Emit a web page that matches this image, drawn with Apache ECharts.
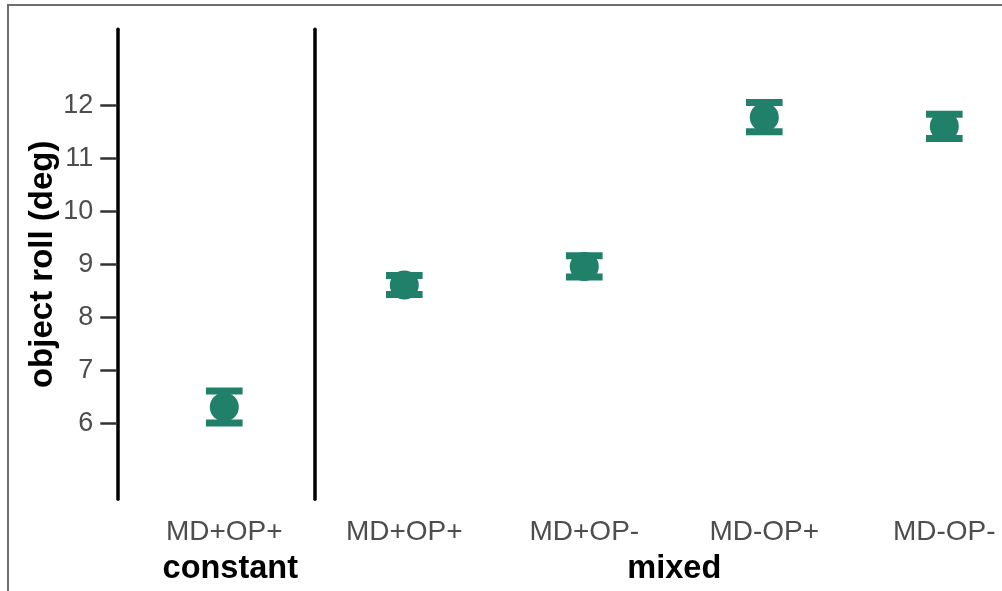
<!DOCTYPE html>
<html>
<head>
<meta charset="utf-8">
<script src="https://cdn.jsdelivr.net/npm/echarts@6/dist/echarts.min.js"></script>
<style>
html,body{margin:0;padding:0;background:#fff;}
#chart{width:1002px;height:591px;}
</style>
</head>
<body>
<div id="chart"></div>
<script>
// ---- data ----
const constantCats = ['MD+OP+'];
const constantMean = [6.31];
const constantLow = [6.01];
const constantHigh = [6.61];

const mixedCats = ['MD+OP+', 'MD+OP-', 'MD-OP+', 'MD-OP-'];
const mixedMean = [8.61, 8.96, 11.77, 11.60];
const mixedLow = [8.43, 8.76, 11.50, 11.37];
const mixedHigh = [8.79, 9.16, 12.05, 11.83];

const yTicks = [6, 7, 8, 9, 10, 11, 12];
const groupNames = ['constant', 'mixed'];
const yTitle = 'object roll (deg)';

// ---- styling ----
const GREEN = '#21806a';
const FONT = "'Liberation Sans', Arial, sans-serif";
const Y_MIN = 4.57, Y_MAX = 13.43;

function errRender(params, api) {
  const x = api.value(0);
  const lo = api.coord([x, api.value(1)]);
  const hi = api.coord([x, api.value(2)]);
  const half = 18.3;
  const st = { stroke: GREEN, lineWidth: 7, lineCap: 'butt' };
  return {
    type: 'group',
    children: [
      { type: 'line', shape: { x1: lo[0], y1: lo[1], x2: hi[0], y2: hi[1] }, style: st },
      { type: 'line', shape: { x1: lo[0] - half, y1: lo[1], x2: lo[0] + half, y2: lo[1] }, style: st },
      { type: 'line', shape: { x1: hi[0] - half, y1: hi[1], x2: hi[0] + half, y2: hi[1] }, style: st }
    ]
  };
}

function yAxisBase(gridIndex, withLabels) {
  return {
    type: 'value',
    gridIndex: gridIndex,
    min: Y_MIN,
    max: Y_MAX,
    splitLine: { show: false },
    axisLine: { show: true, lineStyle: { color: '#000', width: 3.5 } },
    axisTick: withLabels ? {
      show: true, length: 17, customValues: yTicks,
      lineStyle: { color: '#333', width: 2.5 }
    } : { show: false },
    axisLabel: withLabels ? {
      show: true, customValues: yTicks, fontSize: 27, color: '#4d4d4d',
      fontFamily: FONT, margin: 24
    } : { show: false },
    name: withLabels ? yTitle : '',
    nameLocation: 'middle',
    nameRotate: 90,
    nameGap: 58,
    nameTextStyle: { fontSize: 33, fontWeight: 'bold', color: '#000', fontFamily: FONT }
  };
}

function xAxisBase(gridIndex, cats, name, namePad) {
  return {
    type: 'category',
    gridIndex: gridIndex,
    data: cats,
    boundaryGap: true,
    axisLine: { show: false },
    axisTick: { show: false },
    splitLine: { show: false },
    axisLabel: { fontSize: 28, color: '#4d4d4d', fontFamily: FONT, margin: 19, interval: 0 },
    name: name,
    nameLocation: 'middle',
    nameGap: 53,
    nameTextStyle: { fontSize: 32.5, fontWeight: 'bold', color: '#000', fontFamily: FONT, padding: namePad }
  };
}

const chart = echarts.init(document.getElementById('chart'), null, { renderer: 'canvas' });
chart.setOption({
  backgroundColor: '#fff',
  animation: false,
  graphic: [{
    type: 'rect', z: 100, silent: true,
    shape: { x: 8, y: 5, width: 1200, height: 800 },
    style: { fill: 'none', stroke: '#6e6e6e', lineWidth: 2 }
  }],
  grid: [
    { left: 117.3, top: 29.3, width: 214, height: 470, containLabel: false, outerBoundsMode: 'none' },
    { left: 314.3, top: 29.3, width: 720, height: 470, containLabel: false, outerBoundsMode: 'none' }
  ],
  xAxis: [
    xAxisBase(0, constantCats, groupNames[0], [0, 0, 0, 12]),
    xAxisBase(1, mixedCats, groupNames[1], [0, 0, 0, 0])
  ],
  yAxis: [
    yAxisBase(0, true),
    yAxisBase(1, false)
  ],
  series: [
    {
      type: 'custom', xAxisIndex: 0, yAxisIndex: 0,
      renderItem: errRender,
      encode: { x: 0, y: [1, 2] },
      data: constantCats.map((c, i) => [i, constantLow[i], constantHigh[i]]),
      z: 2
    },
    {
      type: 'scatter', xAxisIndex: 0, yAxisIndex: 0,
      symbol: 'circle', symbolSize: 29,
      itemStyle: { color: GREEN, opacity: 1 },
      data: constantCats.map((c, i) => [i, constantMean[i]]),
      z: 3
    },
    {
      type: 'custom', xAxisIndex: 1, yAxisIndex: 1,
      renderItem: errRender,
      encode: { x: 0, y: [1, 2] },
      data: mixedCats.map((c, i) => [i, mixedLow[i], mixedHigh[i]]),
      z: 2
    },
    {
      type: 'scatter', xAxisIndex: 1, yAxisIndex: 1,
      symbol: 'circle', symbolSize: 29,
      itemStyle: { color: GREEN, opacity: 1 },
      data: mixedCats.map((c, i) => [i, mixedMean[i]]),
      z: 3
    }
  ]
});
</script>
</body>
</html>
